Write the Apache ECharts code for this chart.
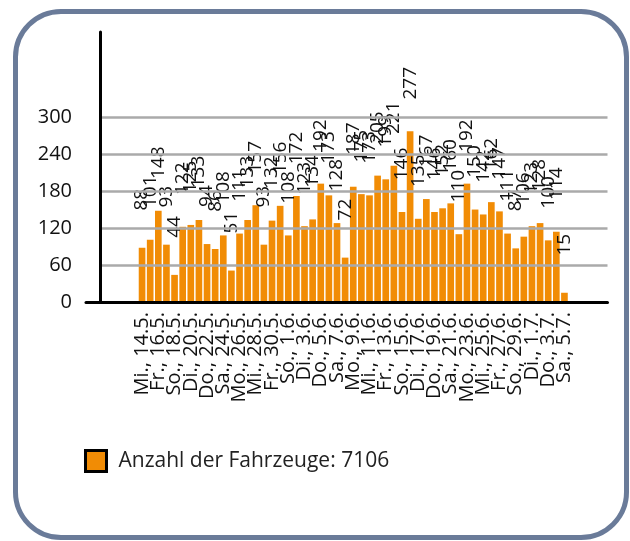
<!DOCTYPE html>
<html>
<head>
<meta charset="utf-8">
<script src="https://cdn.jsdelivr.net/npm/echarts@6/dist/echarts.min.js"></script>
<style>
  html, body { margin: 0; padding: 0; background: #ffffff; }
  #frame { position: absolute; left: 13px; top: 9px; width: 606px; height: 521px;
           border: 5.5px solid #6a7b99; border-radius: 48px; }
  #chart { position: absolute; left: 0; top: 0; width: 630px; height: 541px; }
</style>
</head>
<body>
<div id="frame"></div>
<div id="chart"></div>
<script>
const categories = [
  'Mi., 14.5.', 'Do., 15.5.', 'Fr., 16.5.', 'Sa., 17.5.', 'So., 18.5.', 'Mo., 19.5.', 'Di., 20.5.',
  'Mi., 21.5.', 'Do., 22.5.', 'Fr., 23.5.', 'Sa., 24.5.', 'So., 25.5.', 'Mo., 26.5.', 'Di., 27.5.',
  'Mi., 28.5.', 'Do., 29.5.', 'Fr., 30.5.', 'Sa., 31.5.', 'So., 1.6.', 'Mo., 2.6.', 'Di., 3.6.',
  'Mi., 4.6.', 'Do., 5.6.', 'Fr., 6.6.', 'Sa., 7.6.', 'So., 8.6.', 'Mo., 9.6.', 'Di., 10.6.',
  'Mi., 11.6.', 'Do., 12.6.', 'Fr., 13.6.', 'Sa., 14.6.', 'So., 15.6.', 'Mo., 16.6.', 'Di., 17.6.',
  'Mi., 18.6.', 'Do., 19.6.', 'Fr., 20.6.', 'Sa., 21.6.', 'So., 22.6.', 'Mo., 23.6.', 'Di., 24.6.',
  'Mi., 25.6.', 'Do., 26.6.', 'Fr., 27.6.', 'Sa., 28.6.', 'So., 29.6.', 'Mo., 30.6.', 'Di., 1.7.',
  'Mi., 2.7.', 'Do., 3.7.', 'Fr., 4.7.', 'Sa., 5.7.'
];
const vehicles = [
  88, 101, 148, 93, 44, 122, 125,
  133, 94, 86, 108, 51, 111, 133,
  157, 93, 132, 156, 108, 172, 123,
  134, 192, 173, 128, 72, 187, 175,
  173, 205, 199, 221, 146, 277, 135,
  167, 146, 152, 160, 110, 192, 150,
  142, 162, 147, 111, 87, 106, 123,
  128, 100, 114, 15
];
const seriesName = 'Anzahl der Fahrzeuge: 7106';
const yTicks = [0, 60, 120, 180, 240, 300];
const yMax = 438;

const FONT = '"Open Sans", "Noto Sans", sans-serif';
const gridColors = yTicks.map(() => '#aaaaaa').concat(['transparent', 'transparent', 'transparent', 'transparent']);

const chart = echarts.init(document.getElementById('chart'), null, { renderer: 'canvas' });
chart.setOption({
  animation: false,
  backgroundColor: 'transparent',
  textStyle: { fontFamily: FONT },
  grid: [
    { left: 138, right: 61.5, top: 32, bottom: 239 },
    { left: 100, right: 22.5, top: 32, bottom: 239 },
    { left: 86, right: 22.5, top: 32, bottom: 239 }
  ],
  legend: {
    left: 79, top: 444,
    itemWidth: 21, itemHeight: 21,
    icon: 'rect',
    itemStyle: { borderColor: '#000000', borderWidth: 3 },
    textStyle: { fontFamily: FONT, fontSize: 21, color: '#222222', padding: [0, 0, 0, 7] },
    data: [seriesName]
  },
  xAxis: [
    {
      type: 'category', gridIndex: 0, data: categories,
      axisLine: { show: false }, axisTick: { show: false },
      axisLabel: { interval: 0, showMinLabel: true, showMaxLabel: true, hideOverlap: false,
                   rotate: 90, margin: 10, fontSize: 20, lineHeight: 12,
                   color: '#111111', fontFamily: FONT,
                   formatter: (v, i) => (i % 2 === 0 ? v : '') }
    },
    { type: 'value', gridIndex: 1, show: false },
    {
      type: 'value', gridIndex: 2, z: 5,
      axisLine: { show: true, lineStyle: { color: '#000000', width: 3 } },
      axisTick: { show: false }, axisLabel: { show: false }, splitLine: { show: false }
    }
  ],
  yAxis: [
    { type: 'value', gridIndex: 0, min: 0, max: yMax, show: false },
    {
      type: 'value', gridIndex: 1, min: 0, max: yMax, interval: 60, z: 4,
      axisLine: { show: true, lineStyle: { color: '#000000', width: 3 } },
      axisTick: { show: false },
      axisLabel: {
        margin: 28, fontSize: 20, color: '#111111', fontFamily: FONT,
        formatter: v => (yTicks.indexOf(v) >= 0 ? String(v) : '')
      },
      splitLine: { show: true, lineStyle: { color: gridColors, width: 2.5 } }
    },
    { type: 'value', gridIndex: 2, min: 0, max: yMax, show: false }
  ],
  series: [{
    name: seriesName,
    type: 'bar',
    xAxisIndex: 0, yAxisIndex: 0,
    data: vehicles,
    barCategoryGap: '18%',
    itemStyle: { color: '#f18c05' },
    label: {
      show: true, position: 'top', distance: 48, rotate: 90,
      align: 'center', verticalAlign: 'middle',
      fontSize: 19, color: '#111111', fontFamily: FONT
    }
  }]
});
</script>
</body>
</html>
